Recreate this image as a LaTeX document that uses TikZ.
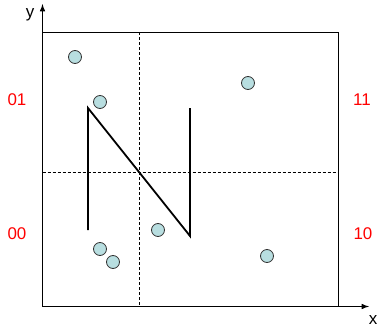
\documentclass[tikz,border=0pt]{standalone}
\usepackage{fontspec}
\setmainfont{Liberation Sans}
\definecolor{pointfill}{RGB}{184,222,224}
\begin{document}
\begin{tikzpicture}[x=1bp, y=-1bp, >=latex,
    point/.style={circle, draw=black!80, fill=pointfill, inner sep=0pt, minimum size=13bp, line width=0.8bp},
    quad/.style={text=red, anchor=base, font=\fontsize{17}{19}\selectfont},
    axlabel/.style={anchor=base, font=\fontsize{17}{19}\selectfont}]
    \useasboundingbox (0,0) rectangle (378,331);

    % Axes
    \coordinate (O) at (42.5,306.5);
    \coordinate (xend) at (369,306.5);
    \coordinate (yend) at (42.5,4);
    \draw[->, line width=1.5bp] (O) -- (xend);
    \draw[->, line width=1.5bp] (O) -- (yend);
    \node[axlabel] (xlab) at (373,324) {x};
    \node[axlabel] (ylab) at (30,17) {y};

    % Box and quadrant split
    \coordinate (tl) at (42.5,32);
    \coordinate (tr) at (338,32);
    \coordinate (br) at (338,306.5);
    \draw[line width=0.8bp] (tl) -- (tr) -- (br);
    \draw[dash pattern=on 3bp off 2bp, line width=0.8bp] (139,32) -- (139,306.5);
    \draw[dash pattern=on 3bp off 2bp, line width=0.8bp] (42.5,172) -- (338,172);

    % Z-order curve
    \coordinate (n1) at (88,230);
    \coordinate (n2) at (88,108);
    \coordinate (n3) at (190,236);
    \coordinate (n4) at (190,108);
    \draw[line width=1.8bp] (n1) -- (n2) -- (n3) -- (n4);

    % Points
    \node[point] (p1) at (75,57) {};
    \node[point] (p2) at (100,102) {};
    \node[point] (p3) at (248,83) {};
    \node[point] (p4) at (158,230) {};
    \node[point] (p5) at (100,249) {};
    \node[point] (p6) at (113,262) {};
    \node[point] (p7) at (267,256) {};

    % Quadrant codes
    \node[quad] (q01) at (17,105) {01};
    \node[quad] (q00) at (17,239) {00};
    \node[quad] (q11) at (362,105) {11};
    \node[quad] (q10) at (363,239) {10};
\end{tikzpicture}
\end{document}
